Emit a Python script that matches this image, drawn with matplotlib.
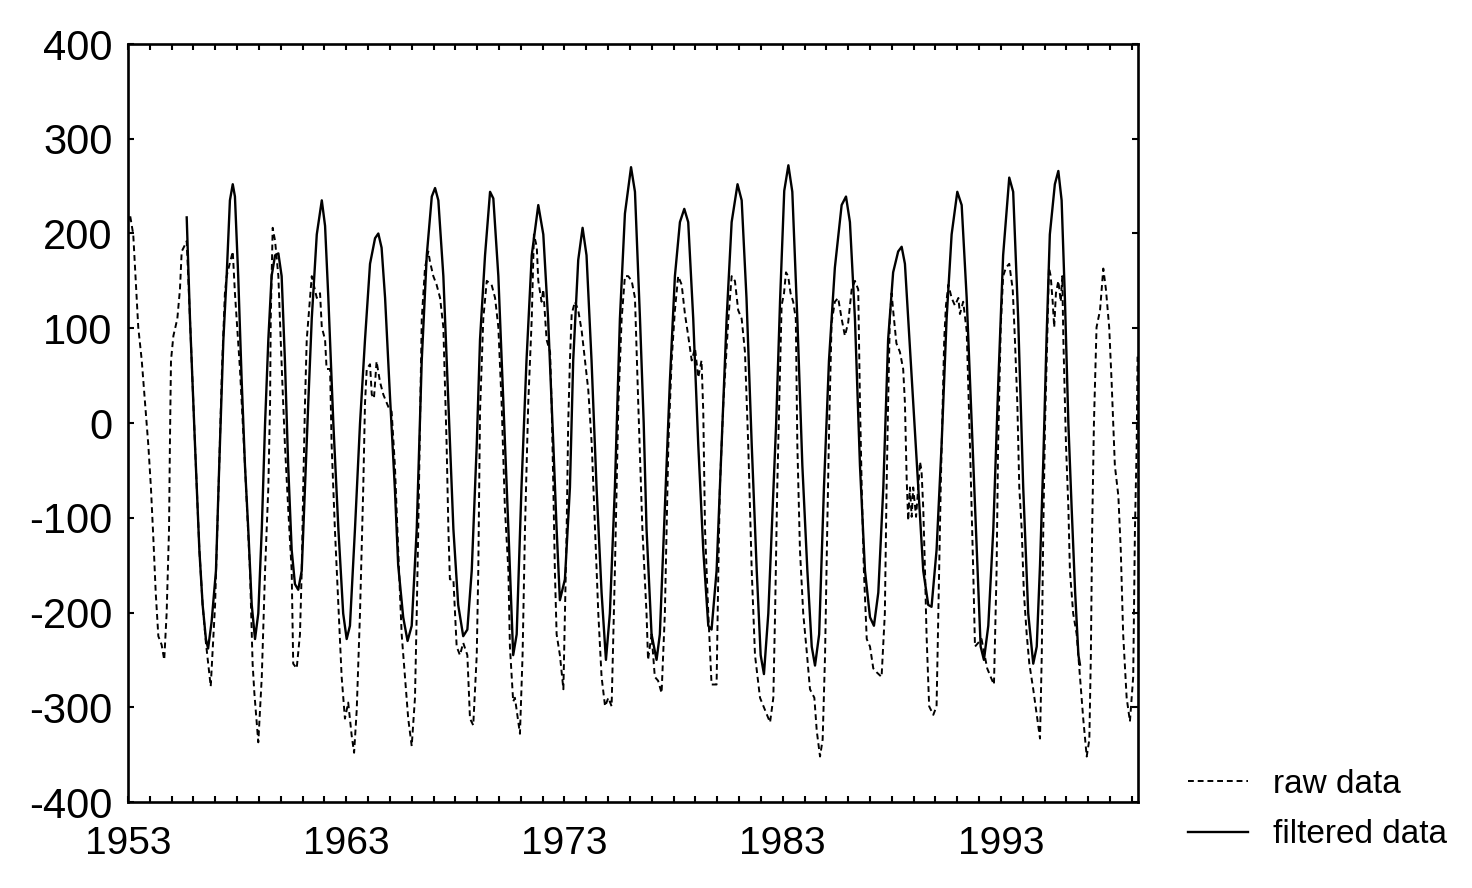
import matplotlib
matplotlib.use('Agg')
import matplotlib.pyplot as plt
from matplotlib.ticker import MultipleLocator

plt.rcParams['font.family'] = ['Liberation Sans', 'DejaVu Sans']
plt.rcParams['axes.unicode_minus'] = False

# ---------------- data ----------------
raw_year = [
    1953.00, 1953.09, 1953.24, 1953.47, 1953.63, 1953.78, 1953.93, 1954.05, 1954.16, 1954.27,
    1954.39, 1954.54, 1954.66, 1954.77, 1954.88, 1954.92, 1954.97, 1955.08, 1955.26, 1955.38,
    1955.46, 1955.61, 1955.69, 1955.84, 1956.07, 1956.27, 1956.42, 1956.57, 1956.79, 1956.99,
    1957.18, 1957.31, 1957.44, 1957.52, 1957.80, 1957.90, 1958.13, 1958.36, 1958.59, 1958.71,
    1958.79, 1958.97, 1959.13, 1959.28, 1959.43, 1959.51, 1959.54, 1959.58, 1959.63, 1959.74,
    1959.89, 1959.96, 1960.07, 1960.19, 1960.34, 1960.50, 1960.57, 1960.73, 1960.88, 1960.96,
    1961.03, 1961.11, 1961.19, 1961.42, 1961.65, 1961.80, 1961.88, 1962.03, 1962.10, 1962.26,
    1962.33, 1962.48, 1962.64, 1962.79, 1962.94, 1963.09, 1963.25, 1963.36, 1963.48, 1963.63,
    1963.78, 1963.86, 1963.94, 1964.09, 1964.17, 1964.27, 1964.39, 1964.55, 1964.70, 1964.93,
    1965.08, 1965.23, 1965.38, 1965.54, 1965.69, 1965.84, 1966.00, 1966.15, 1966.23, 1966.30,
    1966.38, 1966.46, 1966.61, 1966.76, 1966.84, 1966.99, 1967.14, 1967.30, 1967.45, 1967.60,
    1967.68, 1967.75, 1967.91, 1968.06, 1968.21, 1968.36, 1968.55, 1968.67, 1968.82, 1968.98,
    1969.05, 1969.13, 1969.28, 1969.44, 1969.66, 1969.82, 1969.97, 1970.12, 1970.27, 1970.43,
    1970.50, 1970.65, 1970.73, 1970.96, 1971.08, 1971.19, 1971.34, 1971.50, 1971.60, 1971.73,
    1971.80, 1971.95, 1972.03, 1972.18, 1972.34, 1972.41, 1972.49, 1972.56, 1972.64, 1972.79,
    1972.95, 1973.02, 1973.10, 1973.17, 1973.25, 1973.33, 1973.48, 1973.63, 1973.79, 1973.94,
    1974.09, 1974.25, 1974.40, 1974.55, 1974.70, 1974.86, 1975.01, 1975.16, 1975.31, 1975.39,
    1975.47, 1975.62, 1975.77, 1975.92, 1976.08, 1976.23, 1976.38, 1976.57, 1976.76, 1976.83,
    1976.99, 1977.14, 1977.29, 1977.45, 1977.60, 1977.68, 1977.76, 1977.91, 1978.06, 1978.21,
    1978.37, 1978.52, 1978.67, 1978.83, 1978.98, 1979.13, 1979.28, 1979.36, 1979.44, 1979.59,
    1979.74, 1979.97, 1980.05, 1980.12, 1980.28, 1980.51, 1980.66, 1980.81, 1980.96, 1981.12,
    1981.27, 1981.42, 1981.58, 1981.73, 1981.96, 1982.19, 1982.42, 1982.57, 1982.65, 1982.75,
    1982.84, 1982.95, 1983.06, 1983.15, 1983.25, 1983.36, 1983.48, 1983.60, 1983.67, 1983.79,
    1983.94, 1984.10, 1984.25, 1984.45, 1984.56, 1984.71, 1984.83, 1984.94, 1985.04, 1985.13,
    1985.24, 1985.39, 1985.54, 1985.70, 1985.85, 1986.00, 1986.16, 1986.31, 1986.46, 1986.54,
    1986.62, 1986.72, 1986.85, 1987.00, 1987.15, 1987.30, 1987.53, 1987.68, 1987.76, 1987.83,
    1987.91, 1987.99, 1988.06, 1988.21, 1988.37, 1988.52, 1988.60, 1988.68, 1988.75, 1988.83,
    1988.91, 1988.98, 1989.11, 1989.21, 1989.29, 1989.36, 1989.44, 1989.52, 1989.59, 1989.71,
    1989.90, 1990.05, 1990.17, 1990.24, 1990.33, 1990.40, 1990.48, 1990.59, 1990.74, 1990.89,
    1991.05, 1991.12, 1991.27, 1991.43, 1991.58, 1991.73, 1991.81, 1991.96, 1992.11, 1992.37,
    1992.53, 1992.68, 1992.80, 1992.87, 1992.99, 1993.10, 1993.23, 1993.38, 1993.54, 1993.64,
    1993.75, 1993.84, 1993.95, 1994.05, 1994.18, 1994.30, 1994.48, 1994.64, 1994.79, 1994.87,
    1994.94, 1995.02, 1995.12, 1995.20, 1995.28, 1995.37, 1995.44, 1995.52, 1995.63, 1995.74,
    1995.81, 1995.86, 1995.98, 1996.09, 1996.16, 1996.31, 1996.47, 1996.62, 1996.77, 1996.93,
    1997.05, 1997.12, 1997.18, 1997.26, 1997.38, 1997.54, 1997.69, 1997.81, 1997.96, 1998.07,
    1998.22, 1998.38, 1998.49, 1998.60, 1998.76, 1998.91, 1999.06, 1999.14, 1999.22, 1999.26,
]
raw_val = [
    212, 220, 199, 101, 66, 21, -23, -68, -121, -179,
    -225, -234, -250, -201, -112, -23, 66, 92, 110, 141,
    181, 188, 192, 110, -23, -134, -192, -232, -278, -192,
    -45, 60, 137, 155, 181, 137, 57, -45, -156, -254,
    -285, -337, -268, -156, -68, 21, 110, 155, 206, 192,
    155, 110, 44, -23, -90, -156, -254, -259, -223, -156,
    -68, 21, 88, 155, 132, 137, 101, 88, 57, 57,
    -23, -112, -192, -268, -312, -295, -330, -348, -303, -201,
    -68, 21, 57, 62, 30, 26, 65, 43, 30, 17,
    12, -45, -134, -223, -268, -312, -341, -290, -201, -112,
    -1, 110, 164, 181, 170, 155, 146, 132, 101, -23,
    -112, -165, -165, -236, -245, -232, -245, -312, -319, -245,
    -156, 12, 110, 150, 146, 132, 101, 21, -90, -156,
    -236, -294, -290, -328, -245, -112, 21, 110, 199, 186,
    150, 128, 141, 88, 75, 21, -68, -156, -223, -245,
    -281, -201, -112, -1, 66, 115, 128, 119, 97, 66,
    35, -23, -112, -201, -268, -299, -290, -299, -156, -68,
    21, 110, 155, 155, 150, 132, 21, -112, -201, -250,
    -223, -268, -272, -285, -201, -112, -23, 66, 119, 155,
    146, 115, 92, 66, 79, 48, 66, 12, -112, -201,
    -276, -276, -156, -68, 21, 110, 155, 150, 119, 110,
    75, -23, -156, -245, -290, -303, -316, -290, -201, -68,
    21, 124, 137, 159, 155, 137, 128, 110, -23, -134,
    -201, -241, -281, -290, -325, -352, -334, -245, -112, -1,
    106, 128, 132, 110, 92, 106, 141, 150, 141, 21,
    -68, -156, -228, -236, -259, -263, -268, -201, -68, 21,
    110, 137, 119, 84, 75, 57, 21, -59, -103, -68,
    -99, -68, -99, -68, -41, -50, -90, -156, -223, -299,
    -308, -299, -156, -68, 21, 88, 124, 146, 132, 124,
    132, 115, 128, 97, -23, -156, -236, -232, -228, -259,
    -268, -276, -156, -23, 101, 155, 164, 168, 141, 88,
    21, -68, -112, -179, -223, -254, -281, -308, -333, -245,
    -112, -1, 88, 164, 155, 128, 101, 137, 150, 128,
    155, 88, -23, -90, -156, -201, -223, -268, -312, -352,
    -334, -245, -112, -1, 101, 119, 163, 141, 101, 44,
    -45, -77, -134, -223, -290, -315, -268, -112, -23, 70,
]

filt_year = [
    1955.69, 1955.84, 1956.07, 1956.27, 1956.42, 1956.57, 1956.67, 1956.83, 1957.03, 1957.18,
    1957.37, 1957.52, 1957.67, 1957.80, 1957.90, 1958.05, 1958.21, 1958.36, 1958.51, 1958.67,
    1958.82, 1958.97, 1959.13, 1959.28, 1959.43, 1959.58, 1959.74, 1959.89, 1960.04, 1960.19,
    1960.34, 1960.50, 1960.65, 1960.80, 1960.96, 1961.11, 1961.26, 1961.42, 1961.65, 1961.88,
    1962.03, 1962.18, 1962.41, 1962.64, 1962.86, 1963.02, 1963.17, 1963.40, 1963.63, 1963.86,
    1964.09, 1964.32, 1964.47, 1964.62, 1964.78, 1965.00, 1965.23, 1965.38, 1965.61, 1965.81,
    1966.00, 1966.23, 1966.46, 1966.69, 1966.92, 1967.07, 1967.22, 1967.45, 1967.68, 1967.91,
    1968.13, 1968.36, 1968.55, 1968.75, 1968.98, 1969.13, 1969.36, 1969.59, 1969.74, 1969.97,
    1970.20, 1970.43, 1970.65, 1970.81, 1971.03, 1971.26, 1971.50, 1971.80, 1972.03, 1972.25,
    1972.49, 1972.64, 1972.79, 1973.02, 1973.25, 1973.40, 1973.63, 1973.83, 1974.01, 1974.24,
    1974.47, 1974.70, 1974.90, 1975.08, 1975.31, 1975.54, 1975.77, 1976.05, 1976.23, 1976.46,
    1976.63, 1976.76, 1976.99, 1977.22, 1977.37, 1977.60, 1977.83, 1978.06, 1978.29, 1978.49,
    1978.67, 1978.90, 1979.13, 1979.36, 1979.59, 1979.74, 1979.97, 1980.20, 1980.43, 1980.66,
    1980.93, 1981.12, 1981.34, 1981.58, 1981.81, 1981.99, 1982.14, 1982.34, 1982.52, 1982.70,
    1982.88, 1983.07, 1983.26, 1983.44, 1983.67, 1983.90, 1984.13, 1984.33, 1984.48, 1984.67,
    1984.89, 1985.12, 1985.39, 1985.70, 1985.90, 1986.08, 1986.31, 1986.54, 1986.77, 1987.00,
    1987.18, 1987.38, 1987.61, 1987.83, 1988.06, 1988.29, 1988.45, 1988.60, 1988.75, 1988.98,
    1989.21, 1989.44, 1989.67, 1989.82, 1990.05, 1990.28, 1990.51, 1990.74, 1991.00, 1991.20,
    1991.43, 1991.66, 1991.89, 1992.07, 1992.22, 1992.42, 1992.65, 1992.88, 1993.10, 1993.38,
    1993.56, 1993.79, 1994.02, 1994.25, 1994.48, 1994.64, 1994.79, 1994.94, 1995.09, 1995.24,
    1995.47, 1995.63, 1995.78, 1995.93, 1996.09, 1996.24, 1996.40, 1996.55, 1996.62,
]
filt_val = [
    217, 110, -23, -134, -192, -228, -238, -210, -156, -45,
    88, 155, 235, 252, 239, 155, 44, -45, -112, -192,
    -228, -201, -112, -1, 88, 155, 177, 179, 155, 66,
    -45, -134, -170, -176, -156, -68, 21, 110, 199, 235,
    208, 132, -1, -112, -201, -228, -214, -112, -1, 88,
    168, 195, 200, 185, 132, 30, -70, -150, -205, -230,
    -214, -112, 66, 177, 239, 248, 235, 155, 21, -112,
    -192, -225, -218, -156, -23, 88, 177, 244, 237, 155,
    21, -112, -245, -223, -68, 66, 177, 230, 199, 110,
    -23, -112, -187, -165, -68, 66, 172, 206, 177, 66,
    -68, -179, -250, -201, -68, 110, 221, 270, 244, 110,
    0, -112, -223, -250, -223, -90, 44, 155, 212, 226,
    212, 110, -23, -134, -214, -218, -156, -23, 110, 212,
    252, 235, 132, -23, -156, -245, -265, -201, -100, 0,
    130, 245, 272, 244, 110, -45, -156, -236, -256, -223,
    -68, 66, 164, 230, 239, 212, 110, -45, -156, -205,
    -214, -179, -68, 88, 159, 181, 186, 168, 110, 21,
    -68, -156, -192, -194, -134, -23, 110, 199, 244, 230,
    132, -1, -134, -236, -250, -214, -112, 44, 177, 259,
    244, 110, -68, -201, -254, -236, -150, -40, 90, 199,
    252, 266, 235, 132, -1, -90, -179, -245, -255,
]

x_major = [1953, 1963, 1973, 1983, 1993]
x_labels = ['1953', '1963', '1973', '1983', '1993']
y_ticks = [-400, -300, -200, -100, 0, 100, 200, 300, 400]
series_labels = ['raw data', 'filtered data']

# ---------------- figure ----------------
W, H = 1472, 888
fig = plt.figure(figsize=(W / 100, H / 100), dpi=100)
ax = fig.add_axes([128 / W, 1 - 802 / H, (1138 - 128) / W, (802 - 44) / H])

ax.plot(raw_year, raw_val, color='black', lw=1.4, dashes=(3.0, 2.0),
        label=series_labels[0])
ax.plot(filt_year, filt_val, color='black', lw=1.7, label=series_labels[1])

ax.set_xlim(1953, 1999.28)
ax.set_ylim(-400, 400)
ax.set_xticks(x_major)
ax.set_xticklabels(x_labels)
ax.xaxis.set_minor_locator(MultipleLocator(1))
ax.set_yticks(y_ticks)
ax.set_yticklabels([str(v) for v in y_ticks])

ax.tick_params(which='both', direction='in', top=True, right=True,
               width=1.5, length=4, color='black')
ax.tick_params(axis='y', labelsize=30, pad=11)
ax.tick_params(axis='x', labelsize=28, pad=17)
for sp in ax.spines.values():
    sp.set_linewidth(1.9)
    sp.set_color('black')

fig.legend(loc='upper left', bbox_to_anchor=(1188 / W, 1 - 769 / H),
           frameon=False, fontsize=24, handlelength=1.8, handletextpad=0.75,
           labelspacing=0.58, borderpad=0, borderaxespad=0)

fig.savefig('out.png', dpi=100, facecolor='white')
